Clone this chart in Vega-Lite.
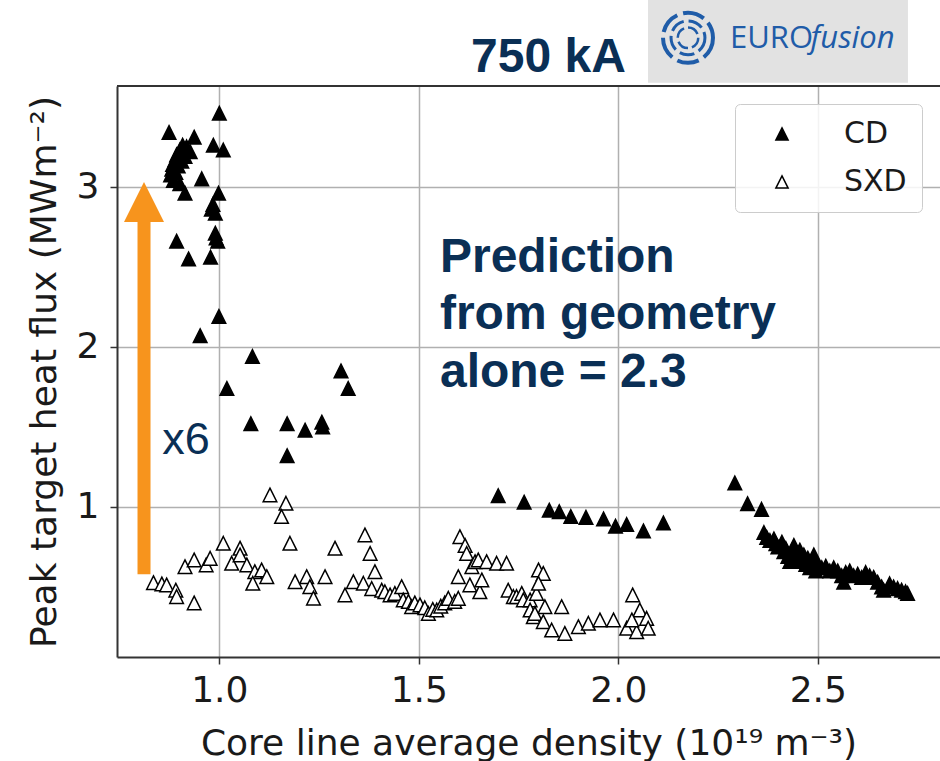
{
  "$schema": "https://vega.github.io/schema/vega-lite/v6.json",
  "width": 823,
  "height": 571,
  "autosize": {"type": "none"},
  "padding": {"left": 117, "top": 86, "right": 0, "bottom": 104},
  "background": "white",
  "config": {"view": {"stroke": null}, "font": "DejaVu Sans"},
  "datasets": {
    "single": [{}],
    "shots": [
      {"ne": 1.000, "q": 3.46, "config": "CD"},
      {"ne": 0.874, "q": 3.34, "config": "CD"},
      {"ne": 0.937, "q": 3.31, "config": "CD"},
      {"ne": 0.985, "q": 3.26, "config": "CD"},
      {"ne": 1.010, "q": 3.23, "config": "CD"},
      {"ne": 0.908, "q": 3.26, "config": "CD"},
      {"ne": 0.901, "q": 3.23, "config": "CD"},
      {"ne": 0.893, "q": 3.20, "config": "CD"},
      {"ne": 0.889, "q": 3.17, "config": "CD"},
      {"ne": 0.883, "q": 3.14, "config": "CD"},
      {"ne": 0.881, "q": 3.11, "config": "CD"},
      {"ne": 0.878, "q": 3.075, "config": "CD"},
      {"ne": 0.885, "q": 3.04, "config": "CD"},
      {"ne": 0.901, "q": 3.02, "config": "CD"},
      {"ne": 0.918, "q": 3.25, "config": "CD"},
      {"ne": 0.927, "q": 3.22, "config": "CD"},
      {"ne": 0.914, "q": 3.19, "config": "CD"},
      {"ne": 0.906, "q": 3.16, "config": "CD"},
      {"ne": 0.897, "q": 3.13, "config": "CD"},
      {"ne": 0.891, "q": 3.09, "config": "CD"},
      {"ne": 0.956, "q": 3.05, "config": "CD"},
      {"ne": 0.914, "q": 2.96, "config": "CD"},
      {"ne": 0.998, "q": 2.96, "config": "CD"},
      {"ne": 0.984, "q": 2.89, "config": "CD"},
      {"ne": 0.980, "q": 2.86, "config": "CD"},
      {"ne": 0.990, "q": 2.835, "config": "CD"},
      {"ne": 0.893, "q": 2.66, "config": "CD"},
      {"ne": 0.990, "q": 2.71, "config": "CD"},
      {"ne": 0.992, "q": 2.68, "config": "CD"},
      {"ne": 0.996, "q": 2.66, "config": "CD"},
      {"ne": 0.923, "q": 2.55, "config": "CD"},
      {"ne": 0.978, "q": 2.56, "config": "CD"},
      {"ne": 0.999, "q": 2.19, "config": "CD"},
      {"ne": 0.952, "q": 2.07, "config": "CD"},
      {"ne": 1.083, "q": 1.94, "config": "CD"},
      {"ne": 1.019, "q": 1.74, "config": "CD"},
      {"ne": 1.305, "q": 1.85, "config": "CD"},
      {"ne": 1.323, "q": 1.74, "config": "CD"},
      {"ne": 1.079, "q": 1.52, "config": "CD"},
      {"ne": 1.170, "q": 1.52, "config": "CD"},
      {"ne": 1.215, "q": 1.48, "config": "CD"},
      {"ne": 1.257, "q": 1.53, "config": "CD"},
      {"ne": 1.259, "q": 1.50, "config": "CD"},
      {"ne": 1.170, "q": 1.32, "config": "CD"},
      {"ne": 1.699, "q": 1.07, "config": "CD"},
      {"ne": 1.764, "q": 1.03, "config": "CD"},
      {"ne": 1.827, "q": 0.98, "config": "CD"},
      {"ne": 1.852, "q": 0.97, "config": "CD"},
      {"ne": 1.881, "q": 0.94, "config": "CD"},
      {"ne": 1.919, "q": 0.935, "config": "CD"},
      {"ne": 1.963, "q": 0.925, "config": "CD"},
      {"ne": 1.993, "q": 0.88, "config": "CD"},
      {"ne": 2.021, "q": 0.89, "config": "CD"},
      {"ne": 2.063, "q": 0.85, "config": "CD"},
      {"ne": 2.113, "q": 0.90, "config": "CD"},
      {"ne": 2.292, "q": 1.15, "config": "CD"},
      {"ne": 2.324, "q": 1.02, "config": "CD"},
      {"ne": 2.359, "q": 0.985, "config": "CD"},
      {"ne": 2.365, "q": 0.84, "config": "CD"},
      {"ne": 2.372, "q": 0.81, "config": "CD"},
      {"ne": 2.380, "q": 0.79, "config": "CD"},
      {"ne": 2.390, "q": 0.80, "config": "CD"},
      {"ne": 2.395, "q": 0.77, "config": "CD"},
      {"ne": 2.400, "q": 0.75, "config": "CD"},
      {"ne": 2.410, "q": 0.78, "config": "CD"},
      {"ne": 2.415, "q": 0.72, "config": "CD"},
      {"ne": 2.420, "q": 0.74, "config": "CD"},
      {"ne": 2.425, "q": 0.69, "config": "CD"},
      {"ne": 2.430, "q": 0.66, "config": "CD"},
      {"ne": 2.435, "q": 0.72, "config": "CD"},
      {"ne": 2.440, "q": 0.76, "config": "CD"},
      {"ne": 2.445, "q": 0.70, "config": "CD"},
      {"ne": 2.450, "q": 0.68, "config": "CD"},
      {"ne": 2.455, "q": 0.73, "config": "CD"},
      {"ne": 2.460, "q": 0.66, "config": "CD"},
      {"ne": 2.465, "q": 0.70, "config": "CD"},
      {"ne": 2.470, "q": 0.64, "config": "CD"},
      {"ne": 2.475, "q": 0.68, "config": "CD"},
      {"ne": 2.480, "q": 0.62, "config": "CD"},
      {"ne": 2.485, "q": 0.66, "config": "CD"},
      {"ne": 2.490, "q": 0.70, "config": "CD"},
      {"ne": 2.495, "q": 0.60, "config": "CD"},
      {"ne": 2.500, "q": 0.64, "config": "CD"},
      {"ne": 2.510, "q": 0.62, "config": "CD"},
      {"ne": 2.520, "q": 0.63, "config": "CD"},
      {"ne": 2.530, "q": 0.60, "config": "CD"},
      {"ne": 2.540, "q": 0.62, "config": "CD"},
      {"ne": 2.550, "q": 0.60, "config": "CD"},
      {"ne": 2.560, "q": 0.57, "config": "CD"},
      {"ne": 2.565, "q": 0.53, "config": "CD"},
      {"ne": 2.570, "q": 0.59, "config": "CD"},
      {"ne": 2.580, "q": 0.60, "config": "CD"},
      {"ne": 2.590, "q": 0.57, "config": "CD"},
      {"ne": 2.600, "q": 0.58, "config": "CD"},
      {"ne": 2.610, "q": 0.56, "config": "CD"},
      {"ne": 2.620, "q": 0.59, "config": "CD"},
      {"ne": 2.630, "q": 0.57, "config": "CD"},
      {"ne": 2.640, "q": 0.56, "config": "CD"},
      {"ne": 2.650, "q": 0.53, "config": "CD"},
      {"ne": 2.660, "q": 0.50, "config": "CD"},
      {"ne": 2.665, "q": 0.48, "config": "CD"},
      {"ne": 2.680, "q": 0.52, "config": "CD"},
      {"ne": 2.690, "q": 0.50, "config": "CD"},
      {"ne": 2.700, "q": 0.49, "config": "CD"},
      {"ne": 2.710, "q": 0.48, "config": "CD"},
      {"ne": 2.720, "q": 0.47, "config": "CD"},
      {"ne": 2.725, "q": 0.46, "config": "CD"},
      {"ne": 0.835, "q": 0.527, "config": "SXD"},
      {"ne": 0.856, "q": 0.519, "config": "SXD"},
      {"ne": 0.868, "q": 0.513, "config": "SXD"},
      {"ne": 0.891, "q": 0.48, "config": "SXD"},
      {"ne": 0.893, "q": 0.44, "config": "SXD"},
      {"ne": 0.937, "q": 0.40, "config": "SXD"},
      {"ne": 0.914, "q": 0.627, "config": "SXD"},
      {"ne": 0.937, "q": 0.669, "config": "SXD"},
      {"ne": 0.967, "q": 0.638, "config": "SXD"},
      {"ne": 0.977, "q": 0.679, "config": "SXD"},
      {"ne": 1.010, "q": 0.773, "config": "SXD"},
      {"ne": 1.031, "q": 0.648, "config": "SXD"},
      {"ne": 1.052, "q": 0.742, "config": "SXD"},
      {"ne": 1.052, "q": 0.70, "config": "SXD"},
      {"ne": 1.069, "q": 0.638, "config": "SXD"},
      {"ne": 1.089, "q": 0.596, "config": "SXD"},
      {"ne": 1.106, "q": 0.606, "config": "SXD"},
      {"ne": 1.119, "q": 0.564, "config": "SXD"},
      {"ne": 1.084, "q": 0.523, "config": "SXD"},
      {"ne": 1.127, "q": 1.075, "config": "SXD"},
      {"ne": 1.167, "q": 1.023, "config": "SXD"},
      {"ne": 1.156, "q": 0.94, "config": "SXD"},
      {"ne": 1.177, "q": 0.773, "config": "SXD"},
      {"ne": 1.190, "q": 0.533, "config": "SXD"},
      {"ne": 1.219, "q": 0.564, "config": "SXD"},
      {"ne": 1.227, "q": 0.502, "config": "SXD"},
      {"ne": 1.236, "q": 0.43, "config": "SXD"},
      {"ne": 1.265, "q": 0.564, "config": "SXD"},
      {"ne": 1.290, "q": 0.742, "config": "SXD"},
      {"ne": 1.315, "q": 0.45, "config": "SXD"},
      {"ne": 1.336, "q": 0.533, "config": "SXD"},
      {"ne": 1.365, "q": 0.825, "config": "SXD"},
      {"ne": 1.378, "q": 0.71, "config": "SXD"},
      {"ne": 1.390, "q": 0.596, "config": "SXD"},
      {"ne": 1.361, "q": 0.523, "config": "SXD"},
      {"ne": 1.382, "q": 0.49, "config": "SXD"},
      {"ne": 1.407, "q": 0.48, "config": "SXD"},
      {"ne": 1.415, "q": 0.47, "config": "SXD"},
      {"ne": 1.428, "q": 0.45, "config": "SXD"},
      {"ne": 1.440, "q": 0.46, "config": "SXD"},
      {"ne": 1.457, "q": 0.502, "config": "SXD"},
      {"ne": 1.461, "q": 0.419, "config": "SXD"},
      {"ne": 1.474, "q": 0.41, "config": "SXD"},
      {"ne": 1.482, "q": 0.377, "config": "SXD"},
      {"ne": 1.490, "q": 0.40, "config": "SXD"},
      {"ne": 1.503, "q": 0.388, "config": "SXD"},
      {"ne": 1.515, "q": 0.37, "config": "SXD"},
      {"ne": 1.524, "q": 0.335, "config": "SXD"},
      {"ne": 1.535, "q": 0.36, "config": "SXD"},
      {"ne": 1.545, "q": 0.356, "config": "SXD"},
      {"ne": 1.555, "q": 0.38, "config": "SXD"},
      {"ne": 1.565, "q": 0.40, "config": "SXD"},
      {"ne": 1.574, "q": 0.429, "config": "SXD"},
      {"ne": 1.590, "q": 0.41, "config": "SXD"},
      {"ne": 1.599, "q": 0.429, "config": "SXD"},
      {"ne": 1.599, "q": 0.564, "config": "SXD"},
      {"ne": 1.603, "q": 0.814, "config": "SXD"},
      {"ne": 1.616, "q": 0.76, "config": "SXD"},
      {"ne": 1.620, "q": 0.71, "config": "SXD"},
      {"ne": 1.633, "q": 0.627, "config": "SXD"},
      {"ne": 1.628, "q": 0.513, "config": "SXD"},
      {"ne": 1.641, "q": 0.658, "config": "SXD"},
      {"ne": 1.649, "q": 0.669, "config": "SXD"},
      {"ne": 1.653, "q": 0.47, "config": "SXD"},
      {"ne": 1.658, "q": 0.544, "config": "SXD"},
      {"ne": 1.670, "q": 0.658, "config": "SXD"},
      {"ne": 1.695, "q": 0.648, "config": "SXD"},
      {"ne": 1.720, "q": 0.648, "config": "SXD"},
      {"ne": 1.724, "q": 0.48, "config": "SXD"},
      {"ne": 1.737, "q": 0.44, "config": "SXD"},
      {"ne": 1.745, "q": 0.44, "config": "SXD"},
      {"ne": 1.758, "q": 0.46, "config": "SXD"},
      {"ne": 1.762, "q": 0.419, "config": "SXD"},
      {"ne": 1.779, "q": 0.419, "config": "SXD"},
      {"ne": 1.779, "q": 0.356, "config": "SXD"},
      {"ne": 1.787, "q": 0.314, "config": "SXD"},
      {"ne": 1.795, "q": 0.46, "config": "SXD"},
      {"ne": 1.800, "q": 0.606, "config": "SXD"},
      {"ne": 1.812, "q": 0.585, "config": "SXD"},
      {"ne": 1.800, "q": 0.523, "config": "SXD"},
      {"ne": 1.816, "q": 0.377, "config": "SXD"},
      {"ne": 1.791, "q": 0.335, "config": "SXD"},
      {"ne": 1.812, "q": 0.283, "config": "SXD"},
      {"ne": 1.833, "q": 0.231, "config": "SXD"},
      {"ne": 1.866, "q": 0.21, "config": "SXD"},
      {"ne": 1.858, "q": 0.377, "config": "SXD"},
      {"ne": 1.900, "q": 0.252, "config": "SXD"},
      {"ne": 1.925, "q": 0.273, "config": "SXD"},
      {"ne": 1.954, "q": 0.294, "config": "SXD"},
      {"ne": 1.988, "q": 0.294, "config": "SXD"},
      {"ne": 2.021, "q": 0.242, "config": "SXD"},
      {"ne": 2.036, "q": 0.45, "config": "SXD"},
      {"ne": 2.054, "q": 0.356, "config": "SXD"},
      {"ne": 2.071, "q": 0.304, "config": "SXD"},
      {"ne": 2.046, "q": 0.221, "config": "SXD"},
      {"ne": 2.075, "q": 0.242, "config": "SXD"},
      {"ne": 2.034, "q": 0.294, "config": "SXD"}
    ]
  },
  "layer": [
    {
      "data": {"name": "single"},
      "mark": {"type": "rect", "color": "#e2e2e2", "clip": false},
      "encoding": {
        "x": {"datum": 2.0744, "type": "quantitative", "scale": {"domain": [0.7436, 2.8063]}, "title": "Core line average density (10¹⁹ m⁻³)"},
        "x2": {"datum": 2.726},
        "y": {"datum": 4.169, "type": "quantitative", "scale": {"domain": [0.0625, 3.63]}, "title": "Peak target heat flux (MWm⁻²)"},
        "y2": {"datum": 3.65}
      }
    },
    {
      "data": {"name": "shots"},
      "mark": {"type": "point", "shape": "M0,-1L1,1L-1,1Z", "size": 185, "stroke": "#000000", "strokeWidth": 1.5, "opacity": 1},
      "encoding": {
        "x": {
          "field": "ne", "type": "quantitative",
          "scale": {"domain": [0.7436, 2.8063], "nice": false, "zero": false},
          "title": "Core line average density (10¹⁹ m⁻³)",
          "axis": {
            "values": [1.0, 1.5, 2.0, 2.5], "format": ".1f",
            "labelFont": "DejaVu Sans", "labelFontSize": 36, "labelColor": "#1a1a1a", "labelPadding": 9,
            "tickSize": 7, "tickWidth": 1.5, "tickColor": "#333333",
            "domainColor": "#333333", "domainWidth": 2,
            "grid": true, "gridColor": "#b0b0b0", "gridWidth": 1.5,
            "titleFont": "DejaVu Sans", "titleFontSize": 36, "titleFontWeight": "normal", "titleColor": "#1a1a1a",
            "titleBaseline": "alphabetic", "titleY": 97
          }
        },
        "y": {
          "field": "q", "type": "quantitative",
          "scale": {"domain": [0.0625, 3.63], "nice": false, "zero": false},
          "title": "Peak target heat flux (MWm⁻²)",
          "axis": {
            "values": [1, 2, 3], "format": "d",
            "labelFont": "DejaVu Sans", "labelFontSize": 36, "labelColor": "#1a1a1a", "labelPadding": 11,
            "tickSize": 7, "tickWidth": 1.5, "tickColor": "#333333",
            "domainColor": "#333333", "domainWidth": 2,
            "grid": true, "gridColor": "#b0b0b0", "gridWidth": 1.5,
            "titleFont": "DejaVu Sans", "titleFontSize": 36, "titleFontWeight": "normal", "titleColor": "#1a1a1a",
            "titleBaseline": "alphabetic", "titleX": -62
          }
        },
        "fill": {
          "field": "config", "type": "nominal",
          "scale": {"domain": ["CD", "SXD"], "range": ["#000000", "#ffffff"]},
          "legend": {
            "title": null, "orient": "none", "legendX": 618, "legendY": 18, "direction": "vertical",
            "padding": 15, "symbolOffset": 17, "symbolType": "M0,-1L1,1L-1,1Z", "symbolSize": 150,
            "symbolStrokeColor": "#000000", "symbolStrokeWidth": 1.5,
            "labelFont": "DejaVu Sans", "labelFontSize": 30, "labelColor": "#1a1a1a", "labelOffset": 47,
            "rowPadding": 18, "strokeColor": "#cccccc", "fillColor": "rgba(255,255,255,0.85)", "cornerRadius": 5
          }
        }
      }
    },
    {
      "data": {"name": "single"},
      "mark": {"type": "rule", "color": "#f7941d", "strokeWidth": 13},
      "encoding": {
        "x": {"datum": 0.8113, "type": "quantitative", "scale": {"domain": [0.7436, 2.8063]}, "title": "Core line average density (10¹⁹ m⁻³)"},
        "y": {"datum": 0.579, "type": "quantitative", "scale": {"domain": [0.0625, 3.63]}, "title": "Peak target heat flux (MWm⁻²)"},
        "y2": {"datum": 2.79}
      }
    },
    {
      "data": {"name": "single"},
      "mark": {"type": "point", "shape": "M0,-1L1,1L-1,1Z", "size": 1600, "filled": true, "color": "#f7941d", "opacity": 1, "strokeWidth": 0},
      "encoding": {
        "x": {"datum": 0.8113, "type": "quantitative", "scale": {"domain": [0.7436, 2.8063]}, "title": "Core line average density (10¹⁹ m⁻³)"},
        "y": {"datum": 2.905, "type": "quantitative", "scale": {"domain": [0.0625, 3.63]}, "title": "Peak target heat flux (MWm⁻²)"}
      }
    },
    {
      "data": {"name": "single"},
      "mark": {"type": "rule", "color": "#333333", "strokeWidth": 2},
      "encoding": {
        "y": {"datum": 3.63, "type": "quantitative", "scale": {"domain": [0.0625, 3.63]}, "title": "Peak target heat flux (MWm⁻²)"}
      }
    },
    {
      "data": {"name": "single"},
      "mark": {"type": "text", "text": "750 kA", "font": "Liberation Sans", "fontWeight": "bold", "fontSize": 48, "color": "#0a2f55", "align": "left", "baseline": "alphabetic"},
      "encoding": {
        "x": {"datum": 1.631, "type": "quantitative", "scale": {"domain": [0.7436, 2.8063]}, "title": "Core line average density (10¹⁹ m⁻³)"},
        "y": {"datum": 3.719, "type": "quantitative", "scale": {"domain": [0.0625, 3.63]}, "title": "Peak target heat flux (MWm⁻²)"}
      }
    },
    {
      "data": {"name": "single"},
      "mark": {"type": "text", "text": ["Prediction", "from geometry", "alone = 2.3"], "lineHeight": 57.5, "font": "Liberation Sans", "fontWeight": "bold", "fontSize": 48, "color": "#0a2f55", "align": "left", "baseline": "alphabetic"},
      "encoding": {
        "x": {"datum": 1.553, "type": "quantitative", "scale": {"domain": [0.7436, 2.8063]}, "title": "Core line average density (10¹⁹ m⁻³)"},
        "y": {"datum": 2.4706, "type": "quantitative", "scale": {"domain": [0.0625, 3.63]}, "title": "Peak target heat flux (MWm⁻²)"}
      }
    },
    {
      "data": {"name": "single"},
      "mark": {"type": "text", "text": "x6", "font": "Liberation Sans", "fontSize": 45, "color": "#0a2f55", "align": "left", "baseline": "alphabetic"},
      "encoding": {
        "x": {"datum": 0.857, "type": "quantitative", "scale": {"domain": [0.7436, 2.8063]}, "title": "Core line average density (10¹⁹ m⁻³)"},
        "y": {"datum": 1.331, "type": "quantitative", "scale": {"domain": [0.0625, 3.63]}, "title": "Peak target heat flux (MWm⁻²)"}
      }
    },
    {
      "data": {"name": "single"},
      "mark": {"type": "text", "text": "EURO", "font": "Open Sans", "fontSize": 31, "color": "#1f5ca8", "align": "left", "baseline": "alphabetic"},
      "encoding": {
        "x": {"datum": 2.28, "type": "quantitative", "scale": {"domain": [0.7436, 2.8063]}, "title": "Core line average density (10¹⁹ m⁻³)"},
        "y": {"datum": 3.869, "type": "quantitative", "scale": {"domain": [0.0625, 3.63]}, "title": "Peak target heat flux (MWm⁻²)"}
      }
    },
    {
      "data": {"name": "single"},
      "mark": {"type": "text", "text": "fusion", "font": "Open Sans", "fontStyle": "italic", "fontSize": 31, "color": "#1f5ca8", "align": "left", "baseline": "alphabetic"},
      "encoding": {
        "x": {"datum": 2.482, "type": "quantitative", "scale": {"domain": [0.7436, 2.8063]}, "title": "Core line average density (10¹⁹ m⁻³)"},
        "y": {"datum": 3.869, "type": "quantitative", "scale": {"domain": [0.0625, 3.63]}, "title": "Peak target heat flux (MWm⁻²)"}
      }
    },
    {
      "data": {"name": "single"},
      "mark": {"type": "point", "shape": "circle", "size": 2500, "filled": false, "stroke": "#1f5ca8", "strokeWidth": 4, "strokeDash": [22, 6], "opacity": 1},
      "encoding": {
        "x": {"datum": 2.1747, "type": "quantitative", "scale": {"domain": [0.7436, 2.8063]}, "title": "Core line average density (10¹⁹ m⁻³)"},
        "y": {"datum": 3.931, "type": "quantitative", "scale": {"domain": [0.0625, 3.63]}, "title": "Peak target heat flux (MWm⁻²)"}
      }
    },
    {
      "data": {"name": "single"},
      "mark": {"type": "point", "shape": "circle", "size": 1150, "filled": false, "stroke": "#1f5ca8", "strokeWidth": 3, "strokeDash": [15, 5], "opacity": 1},
      "encoding": {
        "x": {"datum": 2.1747, "type": "quantitative", "scale": {"domain": [0.7436, 2.8063]}, "title": "Core line average density (10¹⁹ m⁻³)"},
        "y": {"datum": 3.931, "type": "quantitative", "scale": {"domain": [0.0625, 3.63]}, "title": "Peak target heat flux (MWm⁻²)"}
      }
    },
    {
      "data": {"name": "single"},
      "mark": {"type": "point", "shape": "circle", "size": 420, "filled": false, "stroke": "#1f5ca8", "strokeWidth": 2.5, "strokeDash": [12, 4], "opacity": 1},
      "encoding": {
        "x": {"datum": 2.1747, "type": "quantitative", "scale": {"domain": [0.7436, 2.8063]}, "title": "Core line average density (10¹⁹ m⁻³)"},
        "y": {"datum": 3.931, "type": "quantitative", "scale": {"domain": [0.0625, 3.63]}, "title": "Peak target heat flux (MWm⁻²)"}
      }
    }
  ]
}
